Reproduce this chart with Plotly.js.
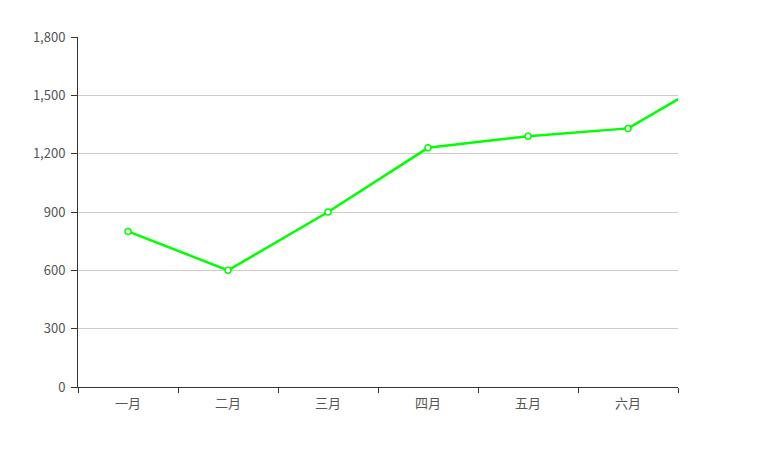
<!DOCTYPE html>
<html>
<head>
<meta charset="utf-8">
<script src="https://cdn.plot.ly/plotly-3.0.1.min.js"></script>
<style>html,body{margin:0;padding:0;background:#fff;}#chart{width:781px;height:459px;}</style>
</head>
<body>
<div id="chart"></div>
<script>
const categories = ['一月', '二月', '三月', '四月', '五月', '六月', '七月'];
const values = [800, 600, 900, 1230, 1290, 1330, 1630];
const yTickVals = [0, 300, 600, 900, 1200, 1500, 1800];

const font = '"Noto Sans CJK SC", "Noto Sans", sans-serif';

Plotly.newPlot('chart', [{
  type: 'scatter',
  mode: 'lines+markers',
  x: categories,
  y: values,
  line: {color: '#00ff00', width: 2.5},
  marker: {symbol: 'circle', size: 6, color: '#ffffff', line: {color: '#00ff00', width: 1.5}},
  hoverinfo: 'skip'
}], {
  width: 781,
  height: 459,
  margin: {l: 78, r: 103, t: 37, b: 72},
  paper_bgcolor: '#ffffff',
  plot_bgcolor: '#ffffff',
  showlegend: false,
  font: {family: font, size: 13, color: '#555'},
  xaxis: {
    type: 'category',
    categoryorder: 'array',
    categoryarray: categories,
    range: [-0.5, 5.5],
    showgrid: false,
    zeroline: false,
    showline: true,
    linecolor: '#333',
    linewidth: 1,
    ticks: 'outside',
    tickson: 'boundaries',
    ticklen: 5,
    tickcolor: '#333',
    ticklabelstandoff: 4,
    tickfont: {family: font, size: 13, color: '#555'},
    fixedrange: true
  },
  yaxis: {
    range: [0, 1800],
    tickvals: yTickVals,
    tickformat: ',',
    showgrid: true,
    gridcolor: '#cccccc',
    gridwidth: 1,
    zeroline: false,
    showline: true,
    linecolor: '#333',
    linewidth: 1,
    ticks: 'outside',
    ticklen: 6,
    tickcolor: '#333',
    ticklabelstandoff: 3,
    tickfont: {family: font, size: 13, color: '#555'},
    fixedrange: true
  }
}, {displayModeBar: false, staticPlot: true});
</script>
</body>
</html>
